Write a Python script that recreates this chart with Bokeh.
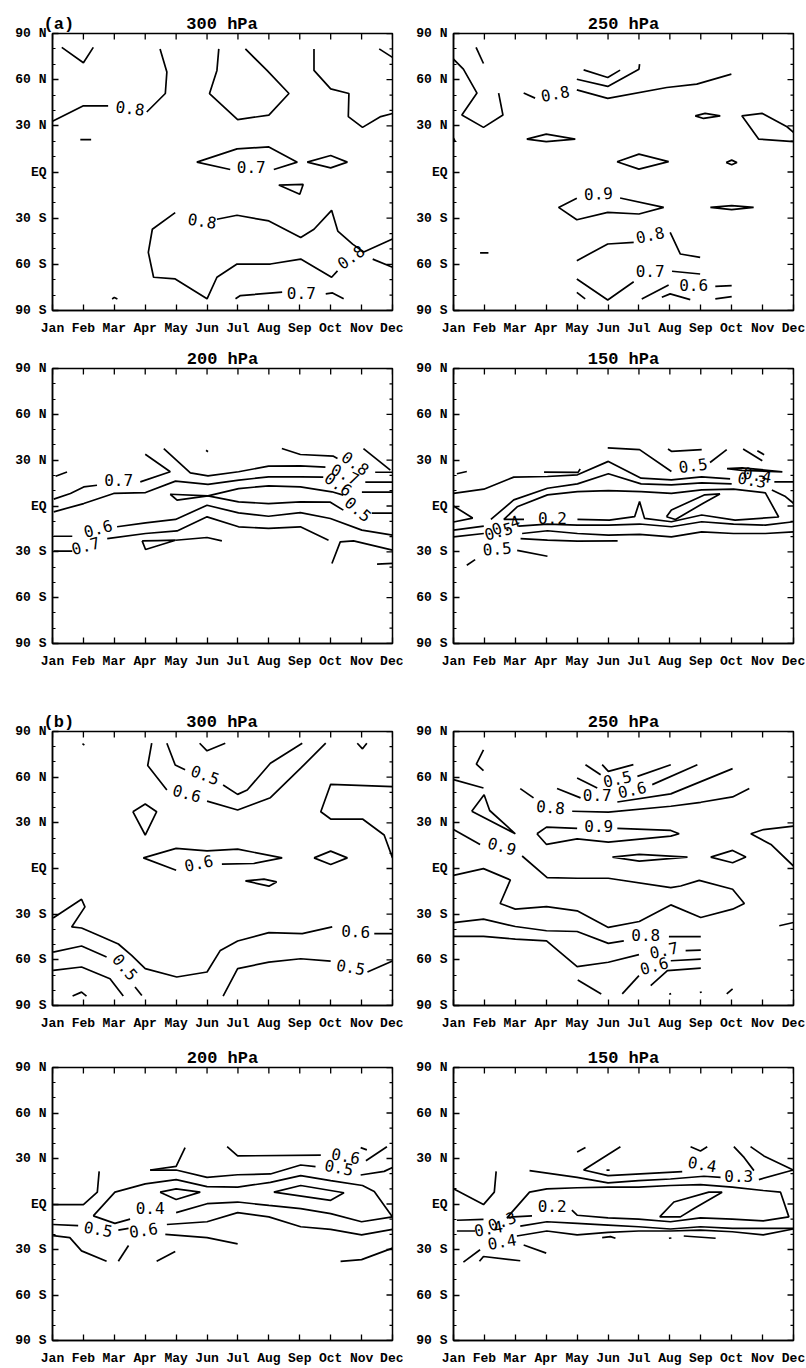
from bokeh.plotting import figure
from bokeh.models import FixedTicker, Range1d
from bokeh.layouts import column, row
from bokeh.core.properties import value
from bokeh.embed import file_html
from bokeh.resources import INLINE

MONTHS = ["Jan", "Feb", "Mar", "Apr", "May", "Jun", "Jul", "Aug", "Sep", "Oct", "Nov", "Dec"]
MONTH_POS = list(range(1, 13))
LAT_TICKS = [-90, -60, -30, 0, 30, 60, 90]
LAT_TICK_LABELS = ["90 S", "60 S", "30 S", "EQ", "30 N", "60 N", "90 N"]
LAT_MINOR = [-80, -70, -50, -40, -20, -10, 10, 20, 40, 50, 70, 80]

# ---------- (a) 300 hPa : contour polylines (month, latitude) ----------
A300_LINES = [
    [(1.3, 81), (2.0, 71), (2.32, 81)],
    [(1.0, 33), (2.0, 43), (2.8, 43)],
    [(4.05, 39), (4.65, 51), (4.7, 65), (4.48, 80)],
    [(1.9, 21), (2.25, 21)],
    [(6.38, 80), (6.32, 66), (6.08, 51), (6.99, 34), (8.0, 37), (8.65, 51), (7.94, 66), (7.24, 80)],
    [(9.46, 80), (9.46, 66), (10.0, 54), (10.59, 51), (10.57, 36), (11.03, 29), (11.62, 36), (12.0, 38)],
    [(11.57, 80), (12.0, 74.5)],
    [(6.75, 1.6), (5.67, 6.4), (6.97, 15), (8.0, 16.3), (8.92, 6.4), (8.16, 1.6)],
    [(9.24, 6.4), (10.0, 10.7), (10.54, 6.4), (10.0, 2.7), (9.24, 6.4)],
    [(8.32, -8.5), (9.11, -8.1), (9.0, -14.5), (8.32, -8.5)],
    [(4.97, -26.4), (4.23, -37.2), (4.10, -52.2), (4.27, -68.4), (4.97, -69.5), (6.0, -82.4), (6.32, -68.4),
     (6.97, -59.8), (8.05, -59.8), (9.03, -56.6), (10.03, -68.4), (10.22, -64.3)],
    [(11.36, -56.6), (12.0, -61.9)],
    [(6.32, -30.7), (6.97, -28.1), (8.0, -31.8), (9.03, -42.5), (9.46, -37.2), (10.03, -24.9), (10.23, -38.4),
     (10.71, -46.9), (11.07, -52.0), (12.0, -43.6)],
    [(6.92, -82.4), (7.08, -80.3), (8.43, -78.1)],
    [(9.84, -79.2), (10.06, -78.6), (10.42, -82.4)],
    [(2.93, -82.5), (3.0, -81.5), (3.1, -82.5)],
]
A300_LABELS = [("0.8", 3.51, 41.5, -7), ("0.7", 7.43, 3.0, 0), ("0.8", 5.84, -31.8, -9),
               ("0.8", 10.65, -55.3, 35), ("0.7", 9.05, -78.5, 0)]

# ---------- (a) 250 hPa ----------
A250_LINES = [
    [(1.73, 81), (1.97, 70.5)],
    [(1.0, 73.3), (1.32, 66.8), (1.76, 51.3), (1.27, 37.0), (1.97, 29.0), (2.60, 37.0), (2.46, 51.3)],
    [(1.0, 22), (1.06, 19.5)],
    [(3.27, 51.3), (3.64, 48.0)],
    [(4.99, 53.4), (5.99, 47.8), (7.9, 54.9), (8.87, 57.1), (9.99, 63.6)],
    [(4.99, 60.3), (5.99, 55.6), (7.0, 66.8), (7.02, 70.1)],
    [(5.21, 66.4), (5.99, 61.4), (6.39, 66.2)],
    [(3.37, 21.4), (4.0, 24.6), (4.94, 21.4), (4.0, 19.7), (3.37, 21.4)],
    [(6.29, 6.7), (7.0, 11.6), (7.96, 6.7), (7.0, 1.9), (6.29, 6.7)],
    [(9.82, 6.2), (10.0, 7.7), (10.17, 6.2), (10.0, 4.7), (9.82, 6.2)],
    [(8.82, 36.5), (9.14, 38.1), (9.63, 36.5), (9.09, 34.8), (8.82, 36.5)],
    [(12.0, 19.7), (10.87, 21.4), (10.33, 36.5), (10.98, 38.1), (11.79, 29.4), (12.0, 25.7)],
    [(4.99, -17.1), (4.40, -23.0), (4.99, -31.0), (5.99, -26.2), (7.0, -27.3), (7.8, -23.0), (6.39, -16.9)],
    [(9.31, -23.0), (10.0, -21.9), (10.71, -23.0), (10.0, -24.5), (9.31, -23.0)],
    [(4.99, -57.6), (5.99, -46.8), (6.83, -45.7)],
    [(8.01, -39.2), (8.34, -53.3), (8.98, -55.5)],
    [(8.07, -64.5), (8.98, -66.3)],
    [(9.47, -74.3), (10.0, -73.8)],
    [(9.47, -82.5), (10.0, -81.0)],
    [(4.99, -69.5), (5.99, -83.2), (6.83, -71.3)],
    [(4.99, -78.2), (5.26, -82.5)],
    [(7.09, -82.5), (7.96, -73.4)],
    [(7.74, -81.4), (8.01, -79.2), (8.66, -82.9)],
    [(1.86, -52.6), (2.13, -52.6)],
]
A250_LABELS = [("0.8", 4.29, 51.0, 10), ("0.9", 5.69, -14.0, 3), ("0.8", 7.36, -40.9, 12),
               ("0.7", 7.36, -64.1, 0), ("0.6", 8.77, -73.4, 0)]

# ---------- (a) 200 hPa ----------
A200_LINES = [
    [(1.10, 19.5), (1.47, 22.3)],
    [(1.04, 4.5), (1.58, 8.2), (2.01, 12.5), (2.44, 13.6)],
    [(3.84, 15.8), (4.81, 22.4), (4.0, 33.9)],
    [(8.42, 37.6), (9.02, 33.7), (10.09, 32.6), (10.22, 31.1)],
    [(11.44, 22.1), (12.0, 22.1)],
    [(4.60, 37.6), (5.46, 21.7), (6.03, 19.7), (7.02, 22.4), (7.99, 26.1), (9.02, 26.3), (9.83, 25.4)],
    [(11.12, 15.6), (12.0, 15.6)],
    [(1.04, -3.8), (2.01, 1.6), (2.98, 8.2), (4.01, 8.8), (4.98, 16.3), (6.03, 14.1), (7.03, 16.9),
     (7.99, 19.1), (9.02, 19.1), (9.76, 18.9)],
    [(11.01, 9.05), (12.0, 9.05)],
    [(4.81, 7.7), (6.03, 6.6), (7.02, 2.7), (7.99, 1.6), (9.02, 2.7), (9.99, 2.5), (10.41, -2.7)],
    [(11.33, -4.7), (12.0, -4.7)],
    [(4.81, 7.7), (5.03, 3.8), (6.03, 6.6), (7.02, 11.4), (7.99, 13.2), (9.02, 12.5), (10.04, 9.3), (10.41, 7.1)],
    [(1.04, -19.8), (1.64, -19.8)],
    [(3.09, -13.6), (4.01, -11.0), (4.98, -8.8), (6.0, 0.5), (7.02, -4.5), (7.99, -6.7), (9.02, -4.3),
     (9.99, -8.2), (11.01, -15.8), (12.0, -19.1)],
    [(1.04, -29.6), (1.64, -29.6)],
    [(2.77, -21.3), (4.01, -18.0), (5.03, -16.3), (6.0, -7.1), (7.02, -13.6), (7.99, -14.7), (9.02, -13.6),
     (9.93, -22.4)],
    [(10.04, -37.6), (10.31, -23.5), (10.74, -22.8), (12.0, -28.9)],
    [(11.5, -38.1), (12.0, -37.6)],
    [(3.9, -22.8), (4.01, -28.5), (4.98, -22.4), (4.4, -22.6), (3.9, -22.8)],
    [(4.98, -22.4), (6.0, -20.6), (6.48, -22.8)],
    [(11.06, 37.6), (11.93, 23.5)],
    [(5.97, 36.5), (6.03, 35.5)],
]
A200_LABELS = [("0.7", 3.14, 17.0, 0), ("0.8", 10.80, 28.0, -35), ("0.7", 10.47, 20.8, -25),
               ("0.6", 10.25, 14.3, -35), ("0.5", 10.89, -2.1, -40), ("0.6", 2.47, -14.7, 15),
               ("0.7", 2.07, -26.0, 15)]

# ---------- (a) 150 hPa ----------
A150_LINES = [
    [(1.11, 21.1), (1.43, 22.6)],
    [(3.93, 22.2), (5.03, 22.0), (5.10, 24.2)],
    [(5.99, 38.0), (7.02, 36.9), (8.05, 22.6)],
    [(9.30, 28.5), (9.84, 36.9)],
    [(7.94, 37.3), (8.05, 35.8), (9.03, 36.9)],
    [(10.37, 37.3), (10.99, 29.6)],
    [(10.83, 36.2), (11.05, 33.6)],
    [(9.85, 24.4), (10.34, 25.0), (11.64, 22.4), (10.34, 23.3), (9.85, 24.4)],
    [(1.0, 8.3), (1.98, 11.0), (2.95, 18.9), (4.04, 19.3), (5.01, 20.4), (6.01, 29.2), (7.07, 18.2),
     (8.05, 17.1), (9.03, 19.1), (9.95, 17.8)],
    [(11.38, 15.8), (12.0, 15.8)],
    [(2.21, -8.8), (2.95, 4.0), (4.04, 11.6), (5.01, 14.5), (6.01, 21.1), (7.07, 14.5), (8.05, 13.8),
     (9.03, 15.2), (10.0, 14.5)],
    [(11.3, 10.5), (11.74, 6.2), (12.0, 1.8)],
    [(5.01, -8.8), (6.04, -9.2), (6.86, -7.0), (7.02, 2.9), (7.18, -8.1), (8.05, -10.3), (9.03, -5.9),
     (10.11, -9.2), (11.52, -7.2), (11.09, 8.6), (10.06, 11.0), (9.03, 10.5), (8.05, 8.3), (7.07, 9.4),
     (6.01, 10.1), (5.01, 9.4), (4.04, 7.3), (3.06, -0.5), (2.63, -8.8), (3.28, -8.8)],
    [(7.89, -7.0), (8.05, -2.6), (9.13, 7.3), (9.62, 7.9), (9.08, 1.8), (8.18, -8.8), (7.89, -7.0)],
    [(1.0, -15.8), (1.98, -13.2)],
    [(3.11, -13.2), (4.04, -11.8), (5.01, -12.5), (6.01, -12.5), (7.02, -11.8), (8.05, -13.6), (9.03, -10.3),
     (10.06, -11.8), (11.09, -12.5), (12.0, -10.3)],
    [(1.0, -20.2), (1.98, -18.0)],
    [(3.22, -18.0), (4.04, -16.2), (5.01, -18.0), (6.01, -19.1), (7.02, -18.6), (8.05, -20.2), (9.03, -16.9),
     (10.06, -18.0), (11.09, -18.0), (12.0, -16.9)],
    [(3.17, -21.3), (4.04, -22.4), (5.01, -23.0), (6.31, -22.8)],
    [(3.06, -29.0), (4.04, -32.9)],
    [(1.43, -38.8), (1.70, -35.1)],
    [(1.0, 0.0), (1.62, -7.9), (1.0, -10.5)],
]
A150_LABELS = [("0.5", 8.75, 26.6, 8), ("0.4", 10.83, 20.4, -10), ("0.3", 10.66, 17.1, -10),
               ("0.2", 4.20, -8.1, 0), ("0.4", 2.69, -12.5, 20), ("0.5", 2.46, -16.5, 15),
               ("0.5", 2.41, -27.9, 5)]

# ---------- (b) 300 hPa ----------
B300_LINES = [
    [(1.97, 82.0), (2.03, 81.0)],
    [(4.21, 82.3), (4.08, 67.6), (4.70, 51.6)],
    [(6.0, 44.3), (6.99, 38.4), (8.05, 46.5), (9.03, 65.9), (9.84, 82.3)],
    [(4.70, 82.3), (4.97, 68.0), (5.29, 64.8)],
    [(6.52, 54.9), (6.99, 48.7), (7.30, 51.6), (8.05, 69.1), (9.08, 82.3)],
    [(5.76, 82.3), (6.0, 77.3), (6.59, 82.3)],
    [(10.86, 82.3), (11.03, 78.6), (11.17, 82.3)],
    [(12.0, 53.8), (10.0, 55.3), (9.68, 37.3), (10.0, 32.5), (11.03, 32.5), (11.73, 22.0), (12.0, 7.0)],
    [(3.60, 37.3), (4.0, 42.4), (4.37, 37.3), (4.0, 22.0), (3.60, 37.3)],
    [(5.0, -1.1), (3.94, 7.0), (5.0, 13.2), (6.0, 11.6), (6.99, 12.7), (8.43, 7.0), (7.51, 3.3), (6.48, 2.9)],
    [(9.46, 7.0), (10.0, 11.4), (10.54, 7.0), (10.0, 2.6), (9.46, 7.0)],
    [(7.24, -8.1), (7.84, -7.0), (8.25, -8.8), (8.0, -11.6), (7.24, -8.1)],
    [(1.02, -32.5), (1.94, -20.2), (2.05, -25.2), (1.62, -38.4), (1.94, -39.1), (2.54, -44.3), (3.13, -49.6),
     (3.56, -57.1), (4.0, -65.8), (5.02, -71.3), (6.0, -68.0), (6.43, -53.8), (6.99, -47.6), (8.0, -42.1),
     (9.08, -42.8), (10.05, -38.4)],
    [(11.41, -42.8), (12.0, -42.8)],
    [(1.02, -54.9), (1.94, -50.9), (2.75, -58.2)],
    [(3.67, -77.9), (3.89, -83.4)],
    [(1.02, -66.9), (1.94, -64.7), (2.86, -72.4), (3.29, -83.8)],
    [(1.65, -83.8), (1.94, -81.2), (2.10, -83.8)],
    [(6.52, -83.8), (6.99, -65.8), (8.0, -61.5), (9.03, -59.3), (10.0, -60.8)],
    [(11.19, -68.0), (12.0, -60.8)],
]
B300_LABELS = [("0.6", 5.35, 49.4, -15), ("0.5", 5.94, 61.5, -20), ("0.6", 5.73, 3.5, 12),
               ("0.6", 10.81, -41.3, -3), ("0.5", 3.35, -64.7, -50), ("0.5", 10.65, -64.7, -10)]

# ---------- (b) 250 hPa ----------
B250_LINES = [
    [(1.97, 78.0), (1.74, 68.6), (1.97, 64.3)],
    [(1.0, 58.4), (1.97, 52.9)],
    [(1.59, 37.6), (1.99, 48.5), (2.17, 38.1), (3.0, 22.8), (1.59, 37.6)],
    [(1.0, 25.6), (1.86, 15.8)],
    [(3.22, 8.2), (4.03, -6.0), (5.0, -6.4), (6.01, -6.4), (8.03, -12.6), (8.35, -11.5), (8.95, -7.8),
     (10.03, -13.6), (10.41, -23.0), (10.03, -26.7), (9.0, -32.2), (8.03, -23.9), (7.01, -34.8),
     (6.01, -38.7), (5.0, -27.8), (4.01, -25.0), (3.0, -26.7), (2.51, -23.0), (2.84, -7.5), (1.97, -0.1),
     (1.0, -4.5)],
    [(3.70, 22.8), (4.01, 27.2), (5.0, 26.3)],
    [(6.30, 26.3), (8.03, 25.0), (8.30, 22.8), (8.03, 21.3), (6.01, 17.3), (5.0, 19.5), (4.01, 15.8),
     (3.70, 22.8)],
    [(6.14, 7.5), (7.01, 9.3), (8.57, 7.5), (7.01, 4.9), (6.14, 7.5)],
    [(9.32, 7.5), (10.03, 11.9), (10.46, 7.5), (10.03, 3.8), (9.32, 7.5)],
    [(12.0, 27.8), (11.03, 25.6), (10.62, 22.8), (11.27, 15.8), (12.0, 1.6)],
    [(3.16, 52.5), (3.59, 46.4)],
    [(4.84, 37.6), (6.01, 37.0), (8.03, 40.9), (9.0, 43.5), (10.03, 47.0), (10.57, 52.5)],
    [(4.35, 52.5), (5.11, 46.4)],
    [(6.30, 43.7), (8.03, 49.0), (10.03, 65.6)],
    [(7.43, 55.1), (8.89, 68.2)],
    [(5.27, 68.2), (5.76, 61.6)],
    [(5.0, 59.5), (5.65, 52.9)],
    [(5.81, 68.2), (6.01, 63.8), (6.82, 68.2)],
    [(6.95, 60.5), (8.03, 68.2)],
    [(1.0, -35.5), (1.97, -33.3), (3.0, -38.1), (4.01, -40.9), (5.0, -41.4), (6.01, -49.2), (6.51, -47.5)],
    [(7.97, -44.8), (9.0, -44.8)],
    [(1.0, -44.6), (1.97, -44.6), (3.0, -46.4), (4.01, -47.5), (5.0, -64.5), (6.01, -61.6), (7.0, -56.6)],
    [(8.51, -54.0), (9.0, -53.6)],
    [(8.03, -60.6), (9.0, -59.5)],
    [(7.38, -76.9), (7.92, -67.1), (9.0, -65.4)],
    [(5.02, -73.2), (5.78, -82.4)],
    [(6.46, -82.4), (7.0, -70.4)],
    [(7.98, -82.6), (8.04, -82.2)],
    [(8.97, -81.5), (9.03, -81.1)],
    [(9.84, -82.4), (10.03, -79.1)],
    [(11.54, -37.6), (12.0, -35.5)],
]
B250_LABELS = [("0.9", 2.57, 14.7, -16), ("0.9", 5.70, 27.8, 0), ("0.8", 4.14, 40.3, -5),
               ("0.7", 5.65, 48.5, 0), ("0.6", 6.78, 51.8, 12), ("0.5", 6.30, 58.8, 12),
               ("0.8", 7.22, -43.8, 0), ("0.7", 7.81, -53.6, 12), ("0.6", 7.49, -63.8, 15)]

# ---------- (b) 200 hPa ----------
B200_LINES = [
    [(4.16, 22.4), (5.0, 24.8), (5.29, 37.2)],
    [(6.65, 37.8), (6.99, 31.7), (9.68, 32.2)],
    [(11.14, 28.5), (11.82, 37.8)],
    [(10.97, 37.2), (11.17, 35.7)],
    [(4.16, 22.4), (5.0, 22.4), (6.0, 17.6), (6.99, 19.3), (8.05, 19.8), (9.03, 25.7), (9.51, 24.6)],
    [(10.97, 19.1), (11.73, 21.5), (12.0, 24.1)],
    [(1.02, -0.4), (2.0, -0.4), (2.45, 7.8), (2.51, 21.5)],
    [(2.32, -7.8), (3.02, 7.8), (4.0, 13.3), (5.0, 16.1), (6.0, 11.5), (6.99, 11.1), (8.05, 14.3),
     (9.03, 18.7), (10.0, 15.4), (11.03, 12.2), (11.41, 8.3), (12.0, -8.5), (11.0, -11.7), (10.0, -6.3),
     (9.03, -3.0), (8.0, -0.9), (6.99, 1.3), (6.0, 0.2), (5.0, -5.7)],
    [(2.32, -7.8), (3.02, -12.8), (3.51, -10.0)],
    [(4.48, 7.8), (5.0, 10.0), (5.78, 7.8), (5.0, 3.0), (4.48, 7.8)],
    [(8.16, 7.8), (9.03, 12.2), (10.43, 7.4), (10.0, 2.4), (8.16, 7.8)],
    [(1.02, -13.5), (1.83, -14.3)],
    [(3.13, -17.2), (3.46, -16.1)],
    [(4.70, -13.5), (6.0, -11.7), (6.99, -5.7), (8.0, -8.5), (9.03, -15.0), (10.0, -16.7), (11.0, -20.4),
     (12.0, -16.7)],
    [(1.02, -20.9), (1.56, -22.2), (1.94, -30.9), (2.75, -37.8)],
    [(3.13, -37.8), (3.46, -27.4)],
    [(4.37, -37.8), (4.97, -31.3)],
    [(4.65, -20.0), (6.0, -22.2), (6.99, -26.3)],
    [(10.32, -37.8), (11.0, -36.7), (12.0, -29.1)],
]
B200_LABELS = [("0.6", 10.49, 31.7, -10), ("0.5", 10.27, 24.1, -10), ("0.4", 4.16, -2.6, 0),
               ("0.5", 2.48, -16.5, -10), ("0.6", 3.94, -17.2, 8)]

# ---------- (b) 150 hPa ----------
B150_LINES = [
    [(5.0, 34.3), (5.27, 37.2)],
    [(6.40, 37.8), (5.21, 22.4), (6.0, 18.7), (8.40, 21.3)],
    [(5.95, 22.4), (6.05, 22.4)],
    [(8.67, 37.8), (8.99, 35.0), (9.21, 37.8)],
    [(10.07, 37.8), (10.40, 30.7), (10.72, 22.0)],
    [(10.61, 37.8), (11.04, 31.7), (11.99, 22.4)],
    [(3.46, 22.0), (5.0, 17.6), (6.0, 13.9), (6.99, 15.4), (8.02, 16.5), (9.10, 18.3), (9.64, 17.6)],
    [(10.88, 16.1), (11.99, 22.4)],
    [(4.83, -4.1), (5.0, -7.4), (6.0, -9.1), (6.99, -10.0), (8.02, -11.7), (8.99, -9.1), (10.02, -10.0),
     (11.02, -11.1), (11.85, -8.5), (11.58, 7.8), (11.02, 8.9), (10.02, 11.1), (8.99, 12.8), (8.02, 12.2),
     (6.99, 11.1), (6.0, 11.1), (5.0, 10.7), (4.02, 10.0), (3.46, 7.8), (2.73, -9.1), (2.94, -8.5),
     (3.54, -7.8)],
    [(7.67, -8.5), (8.13, 1.3), (9.26, 7.8), (9.69, 7.8), (8.78, -3.0), (8.34, -8.5), (7.67, -8.5)],
    [(1.11, -10.7), (1.97, -10.2)],
    [(3.16, -14.6), (4.02, -11.7), (5.0, -12.8), (6.0, -13.9), (6.99, -15.0), (8.02, -16.5), (8.99, -15.0),
     (10.02, -16.1), (11.02, -16.1), (11.99, -16.1)],
    [(1.11, -17.8), (1.70, -17.8)],
    [(3.05, -21.1), (4.02, -17.8), (5.0, -20.4), (6.0, -18.7), (6.99, -17.8), (8.02, -17.8), (8.99, -17.2),
     (10.02, -18.3), (11.02, -20.4), (11.99, -16.5)],
    [(5.81, -22.2), (6.08, -21.5), (6.24, -22.6)],
    [(7.97, -22.6), (8.05, -22.4)],
    [(8.45, -21.1), (9.48, -22.6)],
    [(1.0, 10.0), (1.97, -0.4), (2.32, 7.8), (2.38, 21.5)],
    [(1.32, -38.3), (1.86, -30.2)],
    [(3.27, -27.0), (4.0, -32.4)],
    [(1.84, -37.8), (1.97, -34.6), (3.16, -37.4)],
]
B150_LABELS = [("0.4", 9.05, 26.3, -10), ("0.3", 10.23, 18.7, 0), ("0.2", 4.19, -1.3, 0),
               ("0.3", 2.57, -11.3, 20), ("0.4", 2.13, -16.1, 10), ("0.4", 2.57, -24.8, 10)]

TICK_FONT = "Liberation Mono"
NBSP = "\u00a0"


def style_axis(ax, ticker, labels, standoff):
    ax.ticker = ticker
    ax.axis_line_color = "black"
    ax.axis_line_width = 1.5
    ax.major_tick_line_color = "black"
    ax.major_tick_line_width = 1.3
    ax.minor_tick_line_color = "black"
    ax.minor_tick_line_width = 1.2
    ax.major_tick_in = 6
    ax.major_tick_out = 0
    ax.minor_tick_in = 3
    ax.minor_tick_out = 0
    ax.major_label_overrides = labels
    ax.major_label_standoff = standoff
    ax.major_label_text_font = TICK_FONT
    ax.major_label_text_font_style = "bold"
    ax.major_label_text_font_size = "13px"
    ax.major_label_text_color = "black"


def make_panel(title, lines, labels, tag, width, height, bl, br, bt, bb):
    p = figure(width=width, height=height, x_range=Range1d(1, 12), y_range=Range1d(-90, 90),
               output_backend="svg", toolbar_location=None,
               min_border_left=bl, min_border_right=br, min_border_top=bt, min_border_bottom=bb)
    p.xgrid.visible = False
    p.ygrid.visible = False
    p.outline_line_color = "black"
    p.outline_line_width = 1.5
    p.background_fill_color = "white"
    p.border_fill_color = "white"

    xt = FixedTicker(ticks=MONTH_POS, minor_ticks=[])
    yt = FixedTicker(ticks=LAT_TICKS, minor_ticks=LAT_MINOR)
    style_axis(p.xaxis[0], xt, {m: s for m, s in zip(MONTH_POS, MONTHS)}, 10)
    style_axis(p.yaxis[0], yt, {t: s for t, s in zip(LAT_TICKS, LAT_TICK_LABELS)}, 6)

    # mirrored inward ticks on the top and right frame edges
    p.ray(x=MONTH_POS, y=[90] * len(MONTH_POS), length=6, length_units="screen",
          angle=-90, angle_units="deg", line_color="black", line_width=1.3)
    p.ray(x=[12] * len(LAT_TICKS), y=LAT_TICKS, length=6, length_units="screen",
          angle=180, angle_units="deg", line_color="black", line_width=1.3)
    p.ray(x=[12] * len(LAT_MINOR), y=LAT_MINOR, length=3, length_units="screen",
          angle=180, angle_units="deg", line_color="black", line_width=1.2)

    xs = [[pt[0] for pt in ln] for ln in lines]
    ys = [[pt[1] for pt in ln] for ln in lines]
    p.multi_line(xs=xs, ys=ys, line_color="black", line_width=1.7)

    p.text(x=[l[1] for l in labels], y=[l[2] for l in labels], text=[l[0] for l in labels],
           angle=[l[3] for l in labels], angle_units="deg",
           text_font=value("DejaVu Sans Mono"), text_font_size="16px",
           text_align="center", text_baseline="middle", text_color="black")

    if tag:
        p.title.text = tag + NBSP * 11 + title
        p.title.align = "left"
        p.title.offset = -9
    else:
        p.title.text = title
        p.title.align = "center"
    p.title.text_font = TICK_FONT
    p.title.text_font_style = "bold"
    p.title.text_font_size = "17px"
    p.title.text_color = "black"
    p.title.standoff = 0
    return p


pa300 = make_panel("300 hPa", A300_LINES, A300_LABELS, "(a)", 403, 338, 52, 11, 33, 27)
pa250 = make_panel("250 hPa", A250_LINES, A250_LABELS, None, 403, 338, 50, 13, 33, 27)
pa200 = make_panel("200 hPa", A200_LINES, A200_LABELS, None, 403, 334, 52, 11, 30, 29)
pa150 = make_panel("150 hPa", A150_LINES, A150_LABELS, None, 403, 334, 50, 13, 30, 29)
pb300 = make_panel("300 hPa", B300_LINES, B300_LABELS, "(b)", 403, 361, 52, 11, 59, 27)
pb250 = make_panel("250 hPa", B250_LINES, B250_LABELS, None, 403, 361, 50, 13, 59, 27)
pb200 = make_panel("200 hPa", B200_LINES, B200_LABELS, None, 403, 335, 52, 11, 34, 25)
pb150 = make_panel("150 hPa", B150_LINES, B150_LABELS, None, 403, 335, 50, 13, 34, 25)

layout = column(row(pa300, pa250), row(pa200, pa150), row(pb300, pb250), row(pb200, pb150))

open("out.html", "w").write(file_html(layout, INLINE))
